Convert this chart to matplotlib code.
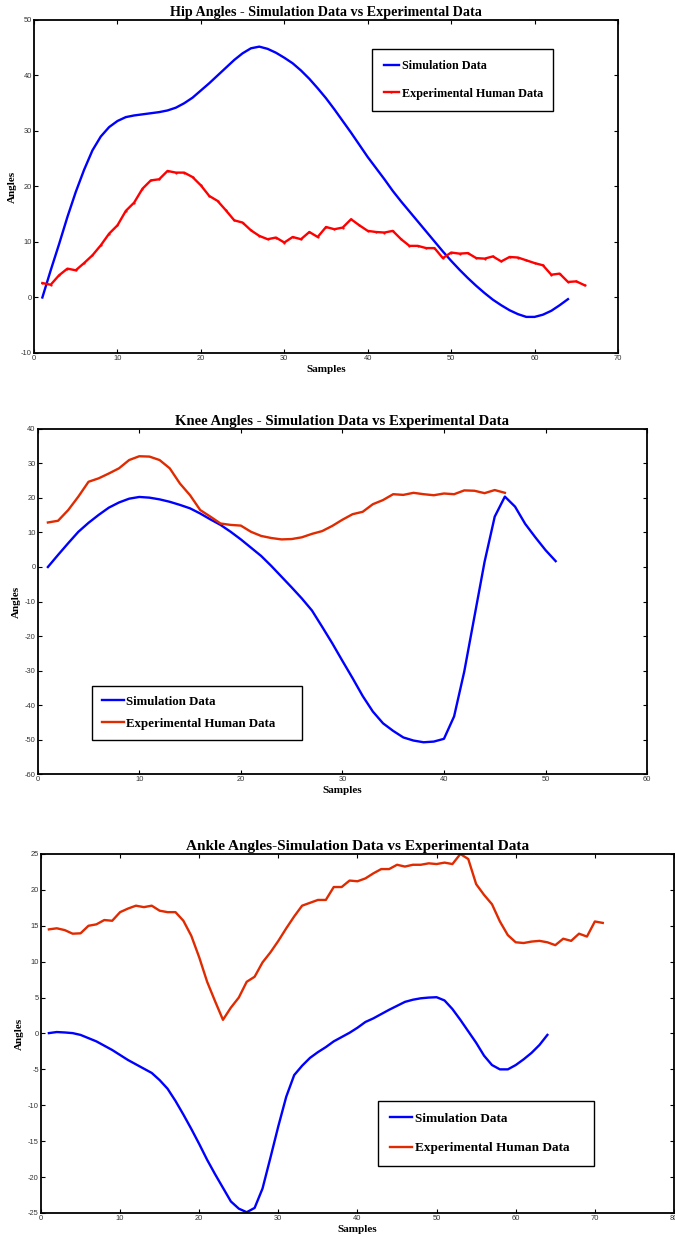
import matplotlib.pyplot as plt
import numpy as np

plt.rcParams['axes.unicode_minus'] = False

# Hip joint angles
hip_sim = [0.0, 4.9, 9.6, 14.5, 19.0, 23.0, 26.5, 29.0, 30.7, 31.8,
           32.5, 32.8, 33.0, 33.2, 33.4, 33.7, 34.2, 35.0, 36.0, 37.3,
           38.6, 40.0, 41.4, 42.8, 44.0, 44.9, 45.2, 44.8, 44.1, 43.2,
           42.2, 40.9, 39.4, 37.7, 35.9, 33.9, 31.8, 29.7, 27.5, 25.3,
           23.3, 21.3, 19.2, 17.3, 15.5, 13.7, 11.9, 10.1, 8.3, 6.6,
           5.0, 3.5, 2.1, 0.8, -0.4, -1.4, -2.3, -3.0, -3.5, -3.5,
           -3.1, -2.4, -1.4, -0.3]
hip_exp = [2.6, 2.3, 4.0, 5.2, 4.9, 6.2, 7.6, 9.4, 11.5, 13.0,
           15.6, 17.1, 19.6, 21.1, 21.3, 22.8, 22.5, 22.5, 21.7, 20.2,
           18.3, 17.4, 15.7, 13.9, 13.5, 12.1, 11.1, 10.5, 10.8, 9.9,
           10.9, 10.5, 11.8, 10.9, 12.7, 12.3, 12.6, 14.1, 13.0, 12.0,
           11.8, 11.7, 12.0, 10.5, 9.3, 9.3, 8.9, 8.9, 7.1, 8.1,
           7.9, 8.0, 7.1, 7.0, 7.4, 6.5, 7.3, 7.2, 6.7, 6.2,
           5.8, 4.1, 4.3, 2.8, 2.9, 2.2]

# Knee joint angles
knee_sim = [0.0, 3.5, 6.9, 10.2, 12.8, 15.1, 17.2, 18.7, 19.8, 20.3,
            20.1, 19.6, 18.9, 18.0, 17.0, 15.5, 13.8, 12.2, 10.2, 8.0,
            5.6, 3.2, 0.3, -2.8, -5.9, -9.1, -12.6, -17.3, -22.1, -27.2,
            -32.2, -37.4, -41.9, -45.3, -47.5, -49.4, -50.3, -50.8, -50.6, -49.8,
            -43.3, -30.3, -14.4, 1.5, 14.6, 20.4, 17.5, 12.5, 8.6, 4.9,
            1.7]
knee_exp = [12.9, 13.4, 16.5, 20.4, 24.7, 25.7, 27.1, 28.6, 31.0, 32.1,
            32.0, 31.0, 28.6, 24.2, 20.8, 16.5, 14.6, 12.6, 12.2, 12.0,
            10.2, 9.0, 8.4, 8.0, 8.1, 8.6, 9.6, 10.4, 11.9, 13.7,
            15.3, 16.0, 18.2, 19.4, 21.1, 20.9, 21.5, 21.1, 20.8, 21.3,
            21.1, 22.2, 22.1, 21.4, 22.3, 21.5]

# Ankle joint angles
ankle_sim = [0.05, 0.2, 0.14, 0.05, -0.2, -0.65, -1.1, -1.7, -2.3, -3.0,
             -3.7, -4.3, -4.9, -5.5, -6.5, -7.7, -9.4, -11.3, -13.3, -15.4,
             -17.6, -19.6, -21.5, -23.4, -24.4, -24.9, -24.3, -21.6, -17.3, -12.9,
             -8.8, -5.8, -4.5, -3.4, -2.6, -1.9, -1.1, -0.5, 0.1, 0.8,
             1.6, 2.1, 2.7, 3.3, 3.85, 4.4, 4.7, 4.9, 5.0, 5.05,
             4.6, 3.4, 1.9, 0.3, -1.3, -3.1, -4.4, -5.0, -5.0, -4.4,
             -3.6, -2.7, -1.6, -0.2]
ankle_exp = [14.5, 14.65, 14.4, 13.9, 13.95, 15.0, 15.2, 15.8, 15.7, 16.9,
             17.4, 17.8, 17.6, 17.8, 17.1, 16.9, 16.9, 15.7, 13.6, 10.6,
             7.2, 4.5, 1.9, 3.6, 5.0, 7.2, 7.9, 9.9, 11.3, 12.9,
             14.65, 16.3, 17.8, 18.2, 18.6, 18.6, 20.4, 20.4, 21.3, 21.2,
             21.6, 22.3, 22.9, 22.9, 23.5, 23.25, 23.5, 23.5, 23.7, 23.6,
             23.8, 23.6, 25.0, 24.3, 20.8, 19.3, 18.0, 15.6, 13.7, 12.7,
             12.6, 12.8, 12.9, 12.7, 12.3, 13.2, 12.9, 13.9, 13.5, 15.6,
             15.4]

SERIF = 'Liberation Serif'
SANS = 'Liberation Sans'
BLUE = '#0000ff'


def panel(rect, sim, exp, title, title_size, xlim, ylim, xstep, ystep, red,
          leg_box, leg_size, leg_space, leg_pad, handle_len, marker=None):
    ax = fig.add_axes(rect)
    ax.plot(np.arange(1, len(sim) + 1), sim, color=BLUE, lw=1.7,
            label='Simulation Data')
    ax.plot(np.arange(1, len(exp) + 1), exp, color=red, lw=1.7,
            marker=marker, markersize=1.2, label='Experimental Human Data')
    ax.set_xlim(*xlim)
    ax.set_ylim(*ylim)
    ax.set_xticks(np.arange(xlim[0], xlim[1] + 1, xstep))
    ax.set_yticks(np.arange(ylim[0], ylim[1] + 1, ystep))
    ax.tick_params(direction='in', length=3, width=0.8, top=True, right=True,
                   labelsize=5.4, labelcolor='#333333', pad=1.5)
    for lab in ax.get_xticklabels() + ax.get_yticklabels():
        lab.set_family(SANS)
    for s in ax.spines.values():
        s.set_linewidth(1.3)
    ax.set_title(title, family=SERIF, fontweight='bold', fontsize=title_size, pad=3)
    ax.set_xlabel('Samples', family=SERIF, fontweight='bold', fontsize=8, labelpad=2)
    ax.set_ylabel('Angles', family=SERIF, fontweight='bold', fontsize=8, labelpad=3)
    leg = ax.legend(loc='upper left', bbox_to_anchor=leg_box, mode='expand',
                    fancybox=False, edgecolor='black', framealpha=1,
                    borderpad=leg_pad, labelspacing=leg_space,
                    handlelength=handle_len, handletextpad=0.2, borderaxespad=0,
                    prop={'family': SERIF, 'weight': 'bold', 'size': leg_size})
    leg.get_frame().set_linewidth(1.0)
    return ax


fig = plt.figure(figsize=(6.75, 12.42), dpi=100)

panel([0.0504, 0.7158, 0.8652, 0.2681], hip_sim, hip_exp,
      'Hip Angles - Simulation Data vs Experimental Data', 10.2,
      (0, 70), (-10, 50), 10, 10, '#ff0000',
      (0.579, 0.730, 0.310, 0.183), 8.7, 1.25, 0.95, 1.3, marker='.')
panel([0.0559, 0.3768, 0.9027, 0.2778], knee_sim, knee_exp,
      'Knee Angles - Simulation Data vs Experimental Data', 10.6,
      (0, 60), (-60, 40), 10, 10, '#e02a00',
      (0.089, 0.0986, 0.345, 0.157), 9.3, 0.8, 0.75, 1.7)
panel([0.0607, 0.0234, 0.9378, 0.2890], ankle_sim, ankle_exp,
      'Ankle Angles-Simulation Data vs Experimental Data', 11,
      (0, 80), (-25, 25), 10, 5, '#e02a00',
      (0.532, 0.125, 0.342, 0.187), 9.5, 1.3, 0.9, 1.7)

plt.savefig('out.png', dpi=100)
